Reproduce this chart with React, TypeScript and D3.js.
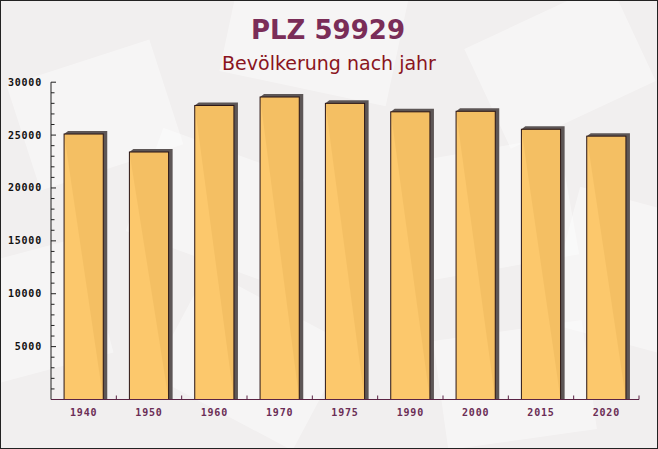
import React from "react";
import * as d3 from "d3";

const years = ["1940", "1950", "1960", "1970", "1975", "1990", "2000", "2015", "2020"];
const population = [25100, 23400, 27800, 28600, 28000, 27200, 27250, 25550, 24900];
const yTicks = [5000, 10000, 15000, 20000, 25000, 30000];
const titleText = "PLZ 59929";
const subtitleText = "Bevölkerung nach jahr";

const W = 658;
const H = 449;

const decor = [
  { x: 20, y: 60, w: 150, h: 110, r: -18 },
  { x: 230, y: -30, w: 170, h: 120, r: 12 },
  { x: 480, y: 10, w: 160, h: 110, r: -25 },
  { x: 140, y: 150, w: 150, h: 110, r: 20 },
  { x: 400, y: 150, w: 170, h: 120, r: -10 },
  { x: 560, y: 200, w: 120, h: 140, r: 15 },
  { x: 170, y: 300, w: 160, h: 120, r: 28 },
  { x: 440, y: 330, w: 150, h: 110, r: -8 },
  { x: -20, y: 250, w: 120, h: 120, r: -15 },
];

export default function App() {
  const left = 51;
  const right = 639;
  const top = 82.2;
  const bottom = 399.5;

  const x = d3.scaleBand<string>().domain(years).range([left, right]).paddingInner(0.4).paddingOuter(0.2);
  const y = d3.scaleLinear().domain([0, 30000]).range([bottom, top]);
  const step = x.step();
  const bw = x.bandwidth();
  const dx = 4;
  const dy = 3;
  const minor = d3.range(1000, 30001, 1000);

  return (
    <svg width={W} height={H} style={{ position: "absolute", left: 0, top: 0 }}>
      <rect x={0} y={0} width={W} height={H} fill="#f1efef" />
      {decor.map((d, i) => (
        <rect
          key={i}
          x={d.x}
          y={d.y}
          width={d.w}
          height={d.h}
          fill="#ffffff"
          opacity={0.4}
          transform={`rotate(${d.r} ${d.x + d.w / 2} ${d.y + d.h / 2})`}
        />
      ))}
      <text x={328} y={39} textAnchor="middle" fontFamily="DejaVu Sans" fontWeight="bold" fontSize={26} fill="#7a2d58">
        {titleText}
      </text>
      <text x={329} y={70} textAnchor="middle" fontFamily="DejaVu Sans" fontSize={19} fill="#8a1420">
        {subtitleText}
      </text>

      {years.map((yr, i) => {
        const bx = x(yr)!;
        const by = y(population[i]);
        const pts = [
          [bx, by],
          [bx + dx, by - dy],
          [bx + bw + dx, by - dy],
          [bx + bw + dx, bottom],
          [bx + bw, bottom],
        ]
          .map((p) => p.join(","))
          .join(" ");
        return (
          <g key={yr}>
            <polygon points={pts} fill="#5d5656" />
            <rect x={bx} y={by} width={bw} height={bottom - by} fill="#fcc564" fillOpacity={0.95} stroke="#2a1515" strokeWidth={1} />
          </g>
        );
      })}

      <line x1={left} y1={top} x2={left} y2={bottom} stroke="#222" strokeWidth={1} />
      {minor.map((v) => (
        <line key={v} x1={left} x2={left + (v % 5000 === 0 ? 5 : 3.5)} y1={y(v)} y2={y(v)} stroke="#222" strokeWidth={1} />
      ))}
      {yTicks.map((v) => (
        <text
          key={v}
          x={42}
          y={y(v) + 3.5}
          textAnchor="end"
          fontFamily="DejaVu Sans Mono"
          fontWeight="bold"
          fontSize={10}
          letterSpacing={0.8}
          fill="#111"
        >
          {v}
        </text>
      ))}

      <line x1={left} y1={bottom} x2={right} y2={bottom} stroke="#5a2344" strokeWidth={1} />
      {years.map((yr, i) => (
        <line key={"t" + yr} x1={left + (i + 1) * step} x2={left + (i + 1) * step} y1={bottom} y2={bottom - 4} stroke="#5a2344" strokeWidth={1} />
      ))}
      {years.map((yr) => (
        <text
          key={"l" + yr}
          x={x(yr)! + bw / 2}
          y={416}
          textAnchor="middle"
          fontFamily="DejaVu Sans Mono"
          fontWeight="bold"
          fontSize={10}
          letterSpacing={0.8}
          fill="#6b2d55"
        >
          {yr}
        </text>
      ))}
      <rect x={0.5} y={0.5} width={W - 1} height={H - 1} fill="none" stroke="#222" strokeWidth={1} />
    </svg>
  );
}
